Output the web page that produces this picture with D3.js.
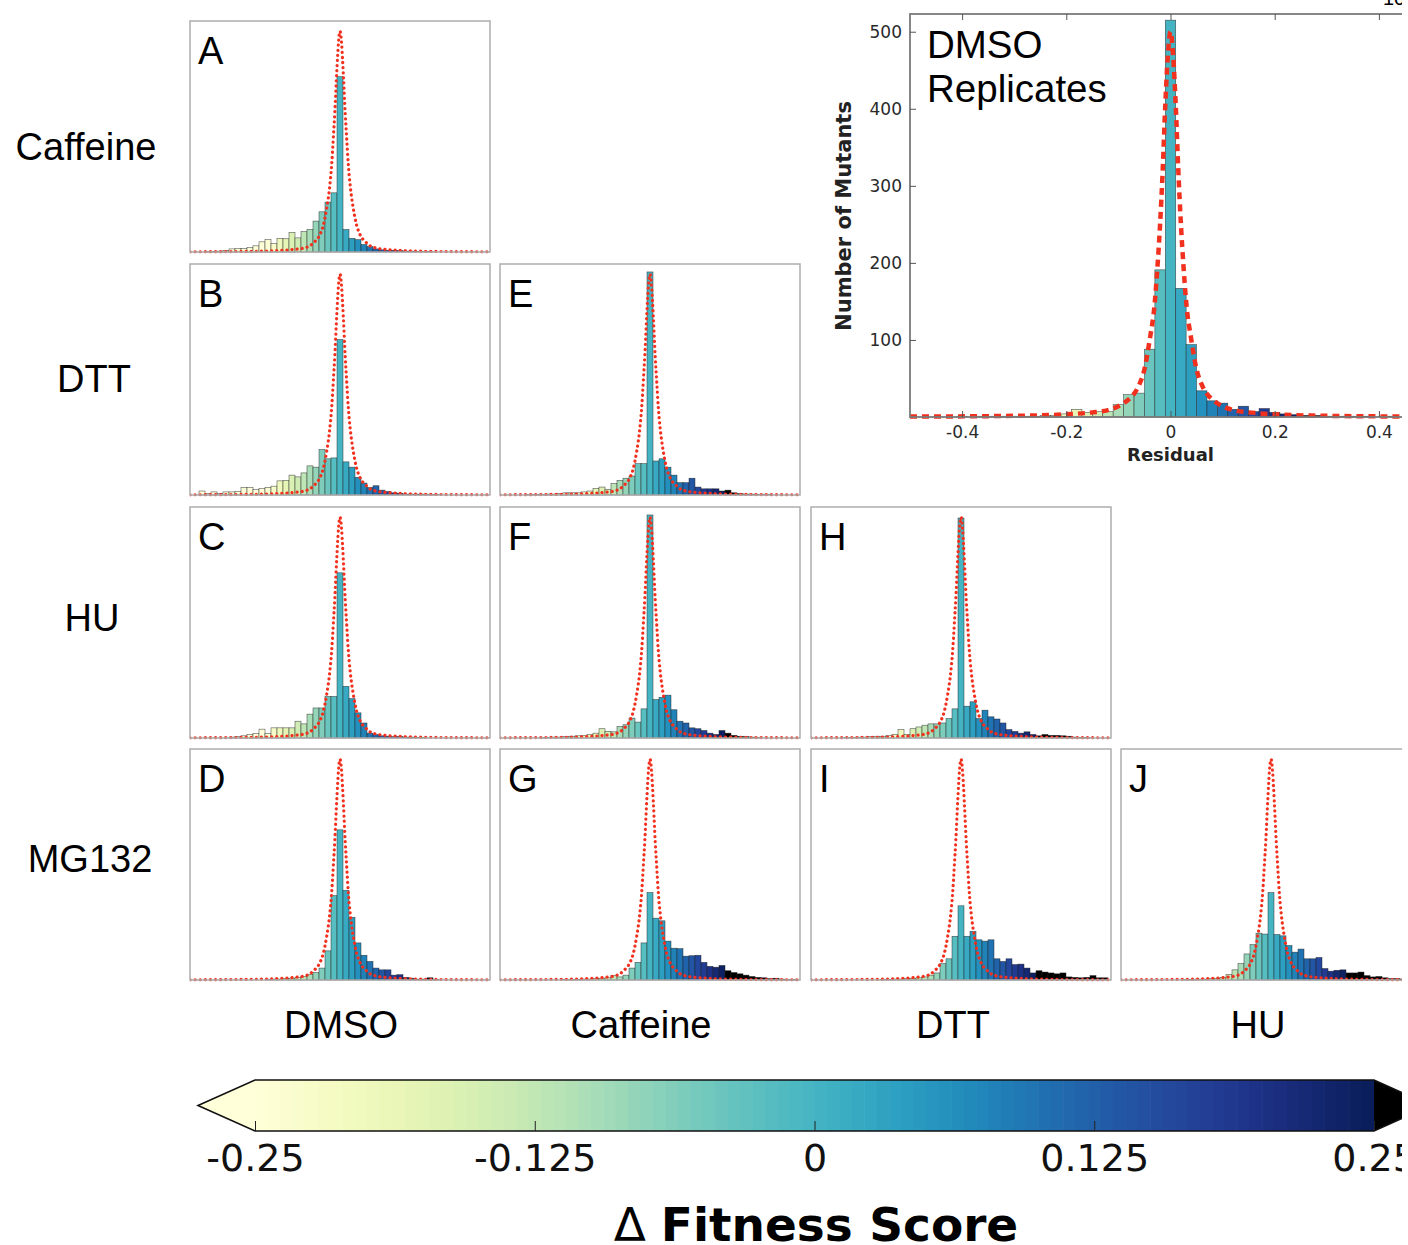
<!DOCTYPE html>
<html>
<head>
<meta charset="utf-8">
<script src="https://cdn.jsdelivr.net/npm/d3@7"></script>
<style>
  body { margin: 0; background: #fff; }
  svg { display: block; }
</style>
</head>
<body>
<script>
"use strict";
(function(){

    // bin centres of every histogram (width 0.02)
    const binCenters = [-0.48,-0.46,-0.44,-0.42,-0.40,-0.38,-0.36,-0.34,-0.32,-0.30,-0.28,-0.26,
        -0.24,-0.22,-0.20,-0.18,-0.16,-0.14,-0.12,-0.10,-0.08,-0.06,-0.04,-0.02,0,
        0.02,0.04,0.06,0.08,0.10,0.12,0.14,0.16,0.18,0.20,0.22,0.24,
        0.26,0.28,0.30,0.32,0.34,0.36,0.38,0.40,0.42,0.44,0.46,0.48]
    const binWidth = 0.02

    // counts per bin
    const countsA = [0,0,1,1,2,3,7,8,8,10,14,23,28,19,31,30,44,32,46,51,70,91,113,134,397,
        51,31,28,17,12,7,5,4,4,3,2,2,1,1,1,0,0,0,0,0,0,0,0,0]
    const countsB = [0,9,3,7,3,7,7,8,17,17,12,15,17,20,32,33,45,41,50,66,63,103,82,84,352,
        75,63,40,27,17,21,11,8,5,4,2,2,2,2,1,1,0,0,0,0,0,0,0,0]
    const countsC = [0,0,0,0,0,0,2,3,5,8,10,20,10,23,23,23,23,38,32,54,68,68,94,94,374,
        117,89,57,34,11,8,5,4,3,3,2,2,1,1,0,0,0,0,0,0,0,0,0,0]
    const countsD = [0,0,0,0,0,0,0,0,0,0,0,0,1,2,2,3,4,6,8,12,17,27,66,191,340,
        203,142,84,56,42,27,23,23,11,12,6,4,2,2,5,1,0,0,0,0,0,0,0,0]
    const countsE = [0,0,0,0,1,1,1,2,2,3,5,5,5,7,9,15,18,13,26,33,38,43,71,71,505,
        77,82,63,45,28,28,38,18,14,14,14,9,11,5,3,2,2,1,1,1,0,0,0,0]
    const countsF = [0,0,0,0,0,0,1,1,2,2,3,4,5,6,8,11,21,15,14,26,30,45,36,66,505,
        87,92,97,64,38,34,23,21,17,11,8,17,11,6,4,3,2,1,0,0,0,0,0,0]
    const countsG = [0,0,0,0,0,0,0,0,0,0,1,1,1,2,2,3,4,5,10,7,11,27,40,84,198,
        140,134,88,72,71,54,55,56,40,31,29,33,21,17,14,11,8,6,5,3,4,2,1,1]
    const countsH = [0,0,0,0,0,1,1,2,2,3,4,4,6,8,19,8,21,25,29,32,32,34,44,66,498,
        72,82,44,63,48,43,34,19,15,11,14,8,5,8,6,6,5,4,2,1,1,0,0,0]
    const countsI = [0,0,0,0,0,0,0,0,0,0,0,1,1,2,2,3,4,5,7,11,16,37,48,99,168,
        99,110,91,88,91,48,42,48,35,36,27,16,21,18,16,14,16,7,6,5,6,10,5,5]
    const countsJ = [0,0,0,0,0,0,0,0,0,0,1,1,2,2,3,4,6,12,23,37,59,80,106,104,198,
        103,100,78,63,70,48,48,51,26,20,22,23,16,16,18,10,7,8,5,3,3,2,1,0]
    const countsReplicates = [0,0,0,0,1,0,1,1,1,1,1,1,2,2,4,10,6,7,7,16,29,31,88,191,515,
        167,94,34,21,18,10,14,7,11,6,4,3,2,2,1,1,1,1,1,0,1,0,0,0]

    // fitted DMSO replicate curve as drawn in the inset
    const fitX = [-0.5,-0.3,-0.2,-0.15,-0.12,-0.1,-0.08,-0.07,-0.06,-0.05,-0.04,-0.03,-0.025,-0.02,-0.015,-0.01,-0.005,
        0,0.005,0.01,0.015,0.02,0.025,0.03,0.04,0.05,0.06,0.07,0.08,0.1,0.12,0.15,0.2,0.3,0.5]
    const fitY = [0.5,1.5,3.5,6,9,14,23,30,42,62,100,150,195,250,320,405,470,
        500,470,405,320,250,195,150,100,62,42,30,23,14,9,6,3.5,1.5,0.5]
    // same curve as it reads in the small panels (a little wider at the core)
    const panelFitX = [-0.5,-0.3,-0.2,-0.15,-0.12,-0.1,-0.085,-0.075,-0.065,-0.055,-0.044,-0.034,-0.028,-0.023,-0.017,-0.011,-0.0055,
        0,0.0055,0.011,0.017,0.023,0.028,0.034,0.044,0.055,0.065,0.075,0.085,0.1,0.12,0.15,0.2,0.3,0.5]
    const panelFitY = [0.5,1.5,3.5,6,9,14,23,30,42,62,100,150,195,250,320,405,470,
        500,470,405,320,250,195,150,100,62,42,30,23,14,9,6,3.5,1.5,0.5]

    const rowNames = ["Caffeine", "DTT", "HU", "MG132"]
    const colNames = ["DMSO", "Caffeine", "DTT", "HU"]
    const panelLetters = ["A", "B", "C", "D", "E", "F", "G", "H", "I", "J"]
    const panelRows = [0, 1, 2, 3, 1, 2, 3, 2, 3, 3]
    const panelCols = [0, 0, 0, 0, 1, 1, 1, 2, 2, 3]
    const panelCounts = [countsA, countsB, countsC, countsD, countsE, countsF, countsG, countsH, countsI, countsJ]

    const cbTicks = [-0.25, -0.125, 0, 0.125, 0.25]
    const cbTickLabels = ["-0.25", "-0.125", "0", "0.125", "0.25"]
    const insetXTicks = [-0.4, -0.2, 0, 0.2, 0.4]
    const insetXLabels = ["-0.4", "-0.2", "0", "0.2", "0.4"]
    const insetYTicks = [100, 200, 300, 400, 500]

    const layout = {
        width: 1408,
        height: 1245,
        visibleWidth: 1402,
        colLeft: [190, 500, 811, 1121],
        rowTop: [21, 264, 507, 749],
        panelW: 300,
        panelH: 231,
        rowLabelX: [86, 94, 92, 90],
        rowLabelY: [160, 392, 631, 872],
        colLabelX: [341, 641, 953, 1258],
        colLabelY: 1038
    }

    const sans = "'Liberation Sans', Arial, Helvetica, sans-serif"
    const dejavu = "'DejaVu Sans', sans-serif"
    const fitColor = "#f2301e"
    const underColor = d3.interpolateYlGnBu(0)

    function binColor(c) {
        if (c < -0.25 - 1e-9) return underColor
        if (c > 0.25 + 1e-9) return "#000"
        return d3.interpolateYlGnBu((c + 0.25) / 0.5)
    }

    const svg = d3.select("body").append("svg")
        .attr("width", layout.width)
        .attr("height", layout.height)

    const defs = svg.append("defs")
    defs.append("clipPath").attr("id", "clip-page")
        .append("rect")
        .attr("x", 0).attr("y", 0)
        .attr("width", layout.visibleWidth).attr("height", layout.height)

    const page = svg.append("g").attr("clip-path", "url(#clip-page)")

    function drawHistogram(g, x, y, counts, bottom, clipId) {
        const bins = d3.zip(binCenters, counts).filter(d => d[1] > 0)
        g.append("g")
            .attr("clip-path", "url(#" + clipId + ")")
            .selectAll("rect")
            .data(bins)
            .enter()
            .append("rect")
                .attr("x", d => x(d[0] - binWidth / 2))
                .attr("width", d => x(d[0] + binWidth / 2) - x(d[0] - binWidth / 2))
                .attr("y", d => y(d[1]))
                .attr("height", d => bottom - y(d[1]))
                .attr("fill", d => binColor(d[0]))
                .attr("stroke", "#222")
                .attr("stroke-opacity", 0.75)
                .attr("stroke-width", 0.6)
    }

    // ---- small panels ----
    const panelFit = d3.zip(panelFitX, panelFitY)

    panelLetters.forEach(function(letter, i) {
        const left = layout.colLeft[panelCols[i]]
        const top = layout.rowTop[panelRows[i]]
        const bottom = top + layout.panelH

        const x = d3.scaleLinear().domain([-0.5, 0.5]).range([left, left + layout.panelW])
        const y = d3.scaleLinear().domain([0, 523]).range([bottom, top])

        const clipId = "clip-" + letter
        defs.append("clipPath").attr("id", clipId)
            .append("rect")
            .attr("x", left).attr("y", top)
            .attr("width", layout.panelW).attr("height", layout.panelH + 3)

        const g = page.append("g")
        drawHistogram(g, x, y, panelCounts[i], bottom, clipId)

        const line = d3.line()
            .x(d => x(d[0]))
            .y(d => y(d[1]))
            .curve(d3.curveMonotoneX)

        g.append("path")
            .attr("clip-path", "url(#" + clipId + ")")
            .attr("d", line(panelFit))
            .attr("fill", "none")
            .attr("stroke", fitColor)
            .attr("stroke-width", 3.2)
            .attr("stroke-linecap", "round")
            .attr("stroke-dasharray", "0.1 5")

        g.append("rect")
            .attr("x", left).attr("y", top)
            .attr("width", layout.panelW).attr("height", layout.panelH)
            .attr("fill", "none")
            .attr("stroke", "#adadad")
            .attr("stroke-width", 1.5)

        g.append("text")
            .attr("x", left + 8)
            .attr("y", top + 43)
            .attr("font-family", sans)
            .attr("font-size", 38)
            .text(letter)
    })

    // ---- row and column labels ----
    page.selectAll(".rowlabel")
        .data(rowNames)
        .enter()
        .append("text")
            .attr("x", (d, i) => layout.rowLabelX[i])
            .attr("y", (d, i) => layout.rowLabelY[i])
            .attr("text-anchor", "middle")
            .attr("font-family", sans)
            .attr("font-size", 38)
            .text(d => d)

    page.selectAll(".collabel")
        .data(colNames)
        .enter()
        .append("text")
            .attr("x", (d, i) => layout.colLabelX[i])
            .attr("y", layout.colLabelY)
            .attr("text-anchor", "middle")
            .attr("font-family", sans)
            .attr("font-size", 38)
            .text(d => d)

    // ---- inset: DMSO replicates ----
    const inset = { left: 910, right: 1431, top: 14, bottom: 417 }
    const ix = d3.scaleLinear().domain([-0.5, 0.5]).range([inset.left, inset.right])
    const iy = d3.scaleLinear().domain([0, 523]).range([inset.bottom, inset.top])

    defs.append("clipPath").attr("id", "clip-inset")
        .append("rect")
        .attr("x", inset.left).attr("y", inset.top)
        .attr("width", inset.right - inset.left).attr("height", inset.bottom - inset.top + 4)

    const ig = page.append("g")
    drawHistogram(ig, ix, iy, countsReplicates, inset.bottom, "clip-inset")

    const insetLine = d3.line()
        .x(d => ix(d[0]))
        .y(d => iy(d[1]))
        .curve(d3.curveMonotoneX)

    ig.append("path")
        .attr("clip-path", "url(#clip-inset)")
        .attr("d", insetLine(d3.zip(fitX, fitY)))
        .attr("fill", "none")
        .attr("stroke", fitColor)
        .attr("stroke-width", 4.5)
        .attr("stroke-dasharray", "7 5")

    ig.append("rect")
        .attr("x", inset.left).attr("y", inset.top)
        .attr("width", inset.right - inset.left).attr("height", inset.bottom - inset.top)
        .attr("fill", "none")
        .attr("stroke", "#7a7a7a")
        .attr("stroke-width", 1.8)

    // ticks point inwards, on all sides
    const xAxisBottom = d3.axisBottom(ix).tickValues(insetXTicks).tickSizeInner(-6).tickSizeOuter(0)
        .tickPadding(9).tickFormat((d, i) => insetXLabels[i])
    const xAxisTop = d3.axisTop(ix).tickValues(insetXTicks).tickSizeInner(-6).tickSizeOuter(0).tickFormat("")
    const yAxisLeft = d3.axisLeft(iy).tickValues(insetYTicks).tickSizeInner(-6).tickSizeOuter(0)
        .tickPadding(8).tickFormat(d3.format("d"))

    function styleAxis(sel) {
        sel.select(".domain").remove()
        sel.selectAll(".tick line").attr("stroke", "#555").attr("stroke-width", 1)
        sel.selectAll(".tick text")
            .attr("fill", "#2a2a2a")
            .attr("font-family", dejavu)
            .attr("font-size", 17)
    }

    ig.append("g").attr("transform", "translate(0," + inset.bottom + ")").call(xAxisBottom).call(styleAxis)
    ig.append("g").attr("transform", "translate(0," + inset.top + ")").call(xAxisTop).call(styleAxis)
    ig.append("g").attr("transform", "translate(" + inset.left + ",0)").call(yAxisLeft).call(styleAxis)

    ig.append("text")
        .attr("x", ix(0))
        .attr("y", 461)
        .attr("text-anchor", "middle")
        .attr("font-family", dejavu)
        .attr("font-weight", "bold")
        .attr("font-size", 18)
        .attr("fill", "#222")
        .text("Residual")

    ig.append("text")
        .attr("transform", "translate(851,216)rotate(-90)")
        .attr("text-anchor", "middle")
        .attr("font-family", dejavu)
        .attr("font-weight", "bold")
        .attr("font-size", 21)
        .attr("fill", "#222")
        .text("Number of Mutants")

    ig.append("text")
        .attr("x", 927).attr("y", 58)
        .attr("font-family", sans)
        .attr("font-size", 38.5)
        .text("DMSO")
    ig.append("text")
        .attr("x", 927).attr("y", 102)
        .attr("font-family", sans)
        .attr("font-size", 38.5)
        .text("Replicates")

    // page number, mostly cut off at the top
    page.append("text")
        .attr("x", 1383).attr("y", 5)
        .attr("font-family", sans)
        .attr("font-size", 20)
        .text("10")

    // ---- colorbar ----
    const cb = { left: 255, right: 1374, top: 1080, bottom: 1131, ext: 57 }
    const cx = d3.scaleLinear().domain([-0.25, 0.25]).range([cb.left, cb.right])
    const cg = page.append("g")
    const nSteps = 90
    const steps = d3.range(nSteps)

    cg.selectAll(".cbstep")
        .data(steps)
        .enter()
        .append("rect")
            .attr("x", d => cx(-0.25 + 0.5 * d / nSteps))
            .attr("width", cx(-0.25 + 0.5 / nSteps) - cx(-0.25) + 0.6)
            .attr("y", cb.top)
            .attr("height", cb.bottom - cb.top)
            .attr("fill", d => d3.interpolateYlGnBu((d + 0.5) / nSteps))

    const midY = (cb.top + cb.bottom) / 2
    cg.append("path")
        .attr("d", "M" + cb.left + "," + cb.top + "L" + (cb.left - cb.ext) + "," + midY + "L" + cb.left + "," + cb.bottom + "Z")
        .attr("fill", underColor)
    cg.append("path")
        .attr("d", "M" + cb.right + "," + cb.top + "L" + (cb.right + cb.ext) + "," + midY + "L" + cb.right + "," + cb.bottom + "Z")
        .attr("fill", "#000")

    cg.append("path")
        .attr("d", "M" + cb.left + "," + cb.top + "L" + cb.right + "," + cb.top +
            "L" + (cb.right + cb.ext) + "," + midY + "L" + cb.right + "," + cb.bottom +
            "L" + cb.left + "," + cb.bottom + "L" + (cb.left - cb.ext) + "," + midY + "Z")
        .attr("fill", "none")
        .attr("stroke", "#111")
        .attr("stroke-width", 1.6)

    const cbAxis = d3.axisBottom(cx).tickValues(cbTicks).tickSizeInner(-10).tickSizeOuter(0)
        .tickPadding(13).tickFormat((d, i) => cbTickLabels[i])
    cg.append("g")
        .attr("transform", "translate(0," + cb.bottom + ")")
        .call(cbAxis)
        .call(function(sel) {
            sel.select(".domain").remove()
            sel.selectAll(".tick line").attr("stroke", "#222").attr("stroke-width", 1)
            sel.selectAll(".tick text")
                .attr("fill", "#111")
                .attr("font-family", dejavu)
                .attr("font-size", 38)
        })

    const title = page.append("text")
        .attr("x", 816)
        .attr("y", 1241)
        .attr("text-anchor", "middle")
        .attr("font-family", dejavu)
        .attr("font-size", 47)
    title.append("tspan").text("\u0394 ")
    title.append("tspan").attr("font-weight", "bold").text("Fitness Score")

})()
</script>
</body>
</html>
